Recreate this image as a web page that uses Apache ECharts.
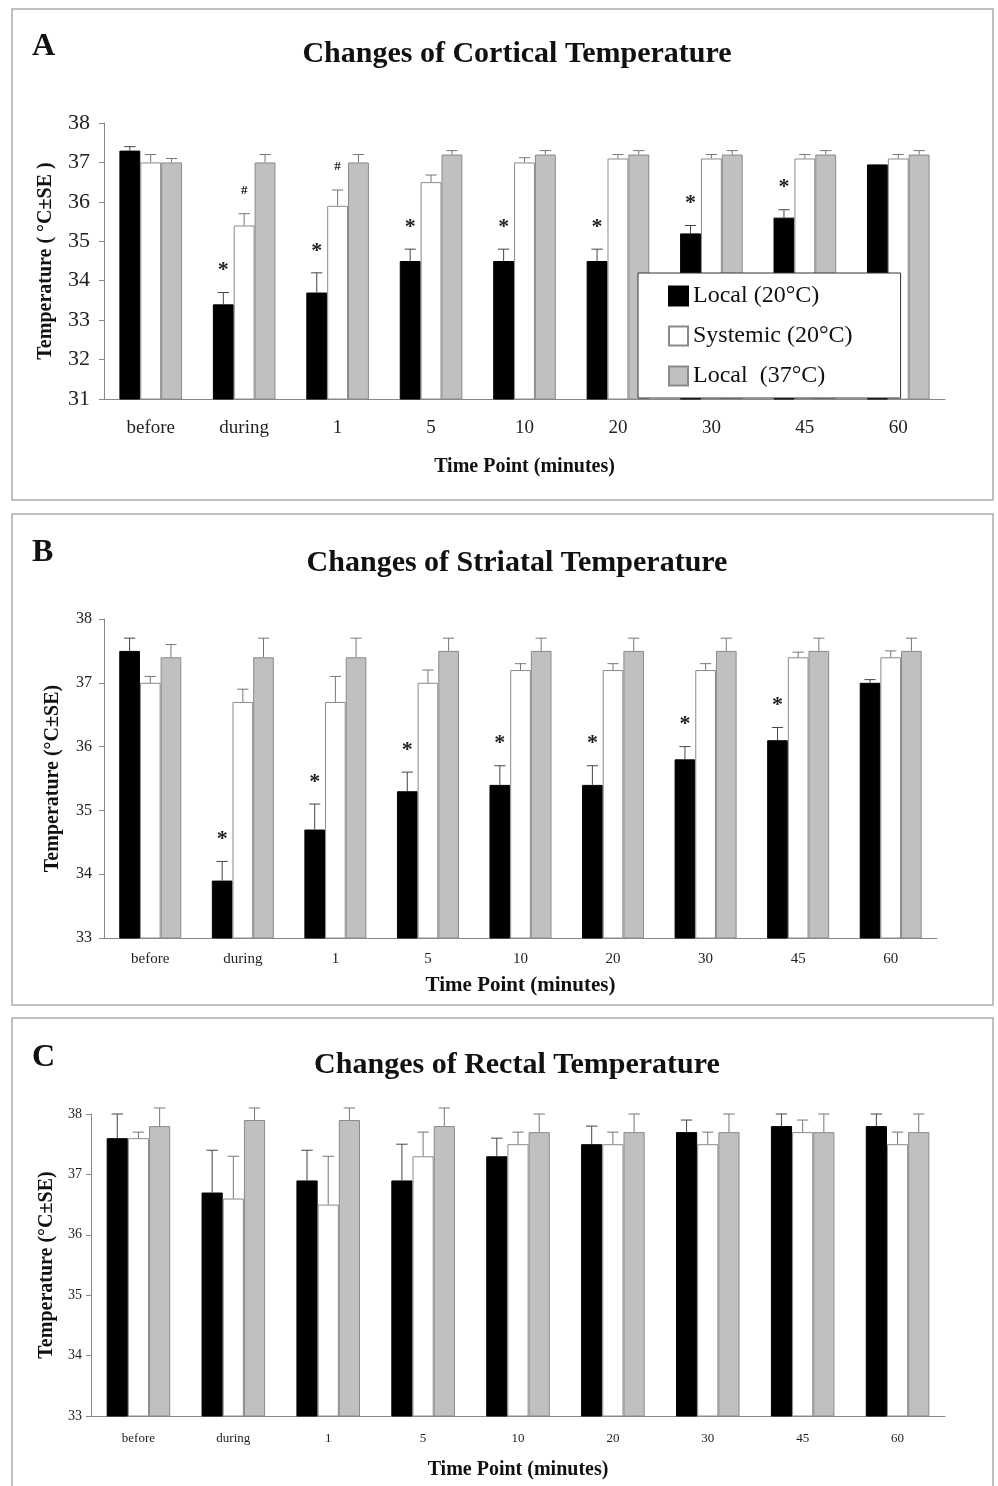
<!DOCTYPE html>
<html>
<head>
<meta charset="utf-8">
<script src="https://cdn.jsdelivr.net/npm/echarts@6/dist/echarts.min.js"></script>
<style>
    html, body { margin: 0; padding: 0; background: #fff; }
    #main { width: 998px; height: 1486px; }
</style>
</head>
<body>
<div id="main"></div>
<script>
// categories and legend names
var timePoints = ['before', 'during', '1', '5', '10', '20', '30', '45', '60'];
var seriesNames = ['Local (20°C)', 'Systemic (20°C)', 'Local  (37°C)'];

// A - cortical temperature (mean, SE)
var cortLocal20 = [37.3, 33.4, 33.7, 34.5, 34.5, 34.5, 35.2, 35.6, 36.95];
var cortLocal20SE = [0.1, 0.3, 0.5, 0.3, 0.3, 0.3, 0.2, 0.2, 0];
var cortSystemic20 = [37.0, 35.4, 35.9, 36.5, 37.0, 37.1, 37.1, 37.1, 37.1];
var cortSystemic20SE = [0.2, 0.3, 0.4, 0.18, 0.12, 0.1, 0.1, 0.1, 0.1];
var cortLocal37 = [37.0, 37.0, 37.0, 37.2, 37.2, 37.2, 37.2, 37.2, 37.2];
var cortLocal37SE = [0.1, 0.2, 0.2, 0.1, 0.1, 0.1, 0.1, 0.1, 0.1];
var cortLocal20Marks = ['', '*', '*', '*', '*', '*', '*', '*', ''];
var cortSystemic20Marks = ['', '#', '#', '', '', '', '', '', ''];

// B - striatal temperature
var striLocal20 = [37.5, 33.9, 34.7, 35.3, 35.4, 35.4, 35.8, 36.1, 37.0];
var striLocal20SE = [0.2, 0.3, 0.4, 0.3, 0.3, 0.3, 0.2, 0.2, 0.05];
var striSystemic20 = [37.0, 36.7, 36.7, 37.0, 37.2, 37.2, 37.2, 37.4, 37.4];
var striSystemic20SE = [0.1, 0.2, 0.4, 0.2, 0.1, 0.1, 0.1, 0.08, 0.1];
var striLocal37 = [37.4, 37.4, 37.4, 37.5, 37.5, 37.5, 37.5, 37.5, 37.5];
var striLocal37SE = [0.2, 0.3, 0.3, 0.2, 0.2, 0.2, 0.2, 0.2, 0.2];
var striLocal20Marks = ['', '*', '*', '*', '*', '*', '*', '*', ''];

// C - rectal temperature
var rectLocal20 = [37.6, 36.7, 36.9, 36.9, 37.3, 37.5, 37.7, 37.8, 37.8];
var rectLocal20SE = [0.4, 0.7, 0.5, 0.6, 0.3, 0.3, 0.2, 0.2, 0.2];
var rectSystemic20 = [37.6, 36.6, 36.5, 37.3, 37.5, 37.5, 37.5, 37.7, 37.5];
var rectSystemic20SE = [0.1, 0.7, 0.8, 0.4, 0.2, 0.2, 0.2, 0.2, 0.2];
var rectLocal37 = [37.8, 37.9, 37.9, 37.8, 37.7, 37.7, 37.7, 37.7, 37.7];
var rectLocal37SE = [0.3, 0.2, 0.2, 0.3, 0.3, 0.3, 0.3, 0.3, 0.3];

var SERIF = '"Liberation Serif", "DejaVu Serif", serif';
var GAP = 0.33;

var barStyles = [
    { color: '#000', borderColor: '#000', borderWidth: 1 },
    { color: '#fff', borderColor: '#8a8a8a', borderWidth: 1 },
    { color: '#c0c0c0', borderColor: '#8a8a8a', borderWidth: 1 }
];
var errColors = ['#444', '#777', '#777'];

function barSeries(gi, k, values) {
    return {
        name: seriesNames[k], type: 'bar', xAxisIndex: gi, yAxisIndex: gi,
        data: values, barGap: '0%', barCategoryGap: (GAP * 100) + '%',
        itemStyle: barStyles[k], silent: true
    };
}

// error bars (upper half only) plus significance marks
function errSeries(gi, k, means, ses, marks, markFont) {
    var data = means.map(function (m, i) { return [i, m, ses[i]]; });
    return {
        type: 'custom', xAxisIndex: gi, yAxisIndex: gi, z: 5, silent: true,
        data: data,
        renderItem: function (params, api) {
            var i = api.value(0), m = api.value(1), se = api.value(2);
            var c = api.coord([i, m]);
            var t = api.coord([i, m + se]);
            var bw = api.size([1, 0])[0] * (1 - GAP) / 3;
            var x = c[0] + (k - 1) * bw;
            var cap = bw * 0.27;
            var kids = [];
            if (se > 0) {
                kids.push({ type: 'line', shape: { x1: x, y1: c[1], x2: x, y2: t[1] }, style: { stroke: errColors[k], lineWidth: 1 } });
                kids.push({ type: 'line', shape: { x1: x - cap, y1: t[1], x2: x + cap, y2: t[1] }, style: { stroke: errColors[k], lineWidth: 1 } });
            }
            var mk = marks ? marks[params.dataIndex] : '';
            if (mk) {
                kids.push({
                    type: 'text',
                    style: {
                        text: mk, x: x, y: t[1] - (mk === '#' ? 17 : 11),
                        align: 'center', verticalAlign: 'bottom',
                        font: mk === '#' ? 'bold 13px ' + SERIF : markFont, fill: '#222'
                    }
                });
            }
            return { type: 'group', children: kids };
        }
    };
}

function xAxis(gi, fontSize, margin, nameGap, nameSize) {
    return {
        gridIndex: gi, type: 'category', data: timePoints,
        axisLine: { lineStyle: { color: '#888' } },
        axisTick: { length: 4, lineStyle: { color: '#888' } },
        axisLabel: { fontFamily: SERIF, fontSize: fontSize, color: '#222', margin: margin },
        name: 'Time Point (minutes)', nameLocation: 'middle', nameGap: nameGap,
        nameTextStyle: { fontFamily: SERIF, fontWeight: 'bold', fontSize: nameSize, color: '#111' }
    };
}

function yAxis(gi, min, fontSize, margin, name, nameGap) {
    return {
        gridIndex: gi, type: 'value', min: min, max: 38, interval: 1,
        splitLine: { show: false },
        axisLine: { show: true, lineStyle: { color: '#888' } },
        axisTick: { show: true, length: 5, lineStyle: { color: '#888' } },
        axisLabel: { fontFamily: SERIF, fontSize: fontSize, color: '#222', margin: margin },
        name: name, nameLocation: 'middle', nameGap: nameGap,
        nameTextStyle: { fontFamily: SERIF, fontWeight: 'bold', fontSize: 20, color: '#111' }
    };
}

function panelTitle(letter, text, letterY, titleY) {
    return [
        { text: letter, left: 32, top: letterY, padding: 0, textVerticalAlign: 'middle',
          textStyle: { fontFamily: SERIF, fontWeight: 'bold', fontSize: 32, color: '#111' } },
        { text: text, left: 517, top: titleY, padding: 0, textAlign: 'center', textVerticalAlign: 'middle',
          textStyle: { fontFamily: SERIF, fontWeight: 'bold', fontSize: 30, color: '#111' } }
    ];
}

var chart = echarts.init(document.getElementById('main'));
var option = {
    animation: false,
    backgroundColor: '#fff',
    title: [].concat(
        panelTitle('A', 'Changes of Cortical Temperature', 47, 54),
        panelTitle('B', 'Changes of Striatal Temperature', 553, 563),
        panelTitle('C', 'Changes of Rectal Temperature', 1058, 1065)
    ),
    graphic: [
        { type: 'rect', shape: { x: 12, y: 9, width: 981, height: 491 }, style: { fill: 'none', stroke: '#aaa', lineWidth: 1.5 }, z: -1 },
        { type: 'rect', shape: { x: 12, y: 514, width: 981, height: 491 }, style: { fill: 'none', stroke: '#aaa', lineWidth: 1.5 }, z: -1 },
        { type: 'rect', shape: { x: 12, y: 1018, width: 981, height: 490 }, style: { fill: 'none', stroke: '#aaa', lineWidth: 1.5 }, z: -1 }
    ],
    legend: {
        data: seriesNames, orient: 'vertical', left: 638, top: 273,
        backgroundColor: '#fff', borderColor: '#333', borderWidth: 1,
        padding: [10, 48, 9, 30], itemWidth: 19, itemHeight: 19, itemGap: 14,
        icon: 'rect', selectedMode: false,
        textStyle: { fontFamily: SERIF, fontSize: 24, color: '#111', lineHeight: 26 }
    },
    grid: [
        { left: 104, top: 123, width: 841, height: 276 },
        { left: 104, top: 619, width: 833, height: 319 },
        { left: 91, top: 1114, width: 854, height: 302 }
    ],
    xAxis: [
        xAxis(0, 19, 20, 58, 20),
        xAxis(1, 15, 14, 37, 21),
        xAxis(2, 13, 16, 44, 20)
    ],
    yAxis: [
        yAxis(0, 31, 22, 14, 'Temperature ( °C±SE )', 48),
        yAxis(1, 33, 16, 12, 'Temperature (°C±SE)', 41),
        yAxis(2, 33, 14, 9, 'Temperature (°C±SE)', 31)
    ],
    series: [
        barSeries(0, 0, cortLocal20), barSeries(0, 1, cortSystemic20), barSeries(0, 2, cortLocal37),
        errSeries(0, 0, cortLocal20, cortLocal20SE, cortLocal20Marks, 'bold 22px ' + SERIF),
        errSeries(0, 1, cortSystemic20, cortSystemic20SE, cortSystemic20Marks),
        errSeries(0, 2, cortLocal37, cortLocal37SE),

        barSeries(1, 0, striLocal20), barSeries(1, 1, striSystemic20), barSeries(1, 2, striLocal37),
        errSeries(1, 0, striLocal20, striLocal20SE, striLocal20Marks, 'bold 22px ' + SERIF),
        errSeries(1, 1, striSystemic20, striSystemic20SE),
        errSeries(1, 2, striLocal37, striLocal37SE),

        barSeries(2, 0, rectLocal20), barSeries(2, 1, rectSystemic20), barSeries(2, 2, rectLocal37),
        errSeries(2, 0, rectLocal20, rectLocal20SE),
        errSeries(2, 1, rectSystemic20, rectSystemic20SE),
        errSeries(2, 2, rectLocal37, rectLocal37SE)
    ]
};
chart.setOption(option);
</script>
</body>
</html>
